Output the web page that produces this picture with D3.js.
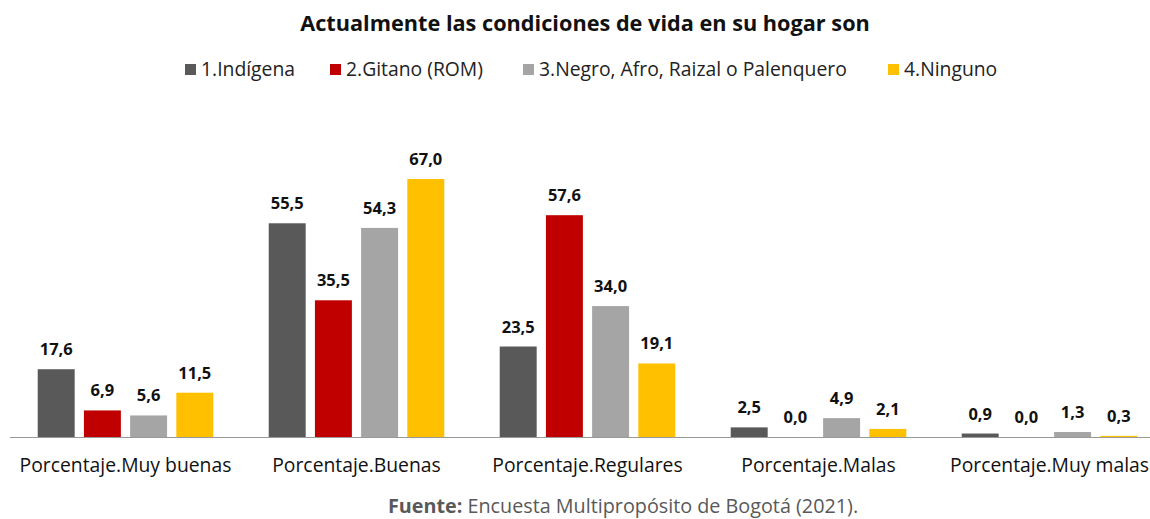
<!DOCTYPE html>
<html><head><meta charset="utf-8">
<script src="https://cdn.jsdelivr.net/npm/d3@7"></script>
<style>body{margin:0;background:#fff;} svg{display:block;font-family:"Open Sans",Lato,sans-serif;}</style>
</head><body>
<svg id="c" width="1150" height="519"></svg>
<script>
const categories = ["Porcentaje.Muy buenas","Porcentaje.Buenas","Porcentaje.Regulares","Porcentaje.Malas","Porcentaje.Muy malas"];
const seriesNames = ["1.Indígena","2.Gitano (ROM)","3.Negro, Afro, Raizal o Palenquero","4.Ninguno"];
const indigena = [17.6,55.5,23.5,2.5,0.9];
const gitano = [6.9,35.5,57.6,0.0,0.0];
const negro = [5.6,54.3,34.0,4.9,1.3];
const ninguno = [11.5,67.0,19.1,2.1,0.3];
const colors = ["#595959","#C00000","#A5A5A5","#FFC000"];
const series = [indigena,gitano,negro,ninguno];

const svg = d3.select("#c");
function fitSize(txt, weight, target){
  const t = svg.append("text").attr("font-size",20).attr("font-weight",weight).text(txt);
  const w = t.node().getComputedTextLength(); t.remove();
  return 20*target/w;
}
const base = 437;
const x0 = d3.scaleBand().domain(categories).range([10,1165]).paddingInner(0).paddingOuter(0);
const x1 = d3.scaleBand().domain(d3.range(4)).range([0,x0.bandwidth()]).paddingInner(0.2).paddingOuter(0.6);
const y = d3.scaleLinear().domain([0,67]).range([base,179]);

svg.append("text").attr("x",585).attr("y",31).attr("text-anchor","middle")
  .attr("font-size",fitSize("Actualmente las condiciones de vida en su hogar son","bold",570)).attr("font-weight","bold").attr("fill","#111").text("Actualmente las condiciones de vida en su hogar son");

const legX = [185,330,523,888];
const legFs = fitSize(seriesNames[2],"normal",308);
seriesNames.forEach((n,i)=>{
  svg.append("rect").attr("x",legX[i]).attr("y",64).attr("width",11).attr("height",11).attr("fill",colors[i]);
  svg.append("text").attr("x",legX[i]+16).attr("y",76).attr("font-size",legFs).attr("fill","#222").text(n);
});

const valFs = fitSize("17,6","bold",33);
const g = svg.append("g");
categories.forEach((c,ci)=>{
  series.forEach((s,si)=>{
    const v = s[ci];
    const bx = x0(c)+x1(si);
    g.append("rect").attr("x",bx).attr("y",y(v)).attr("width",x1.bandwidth()).attr("height",base-y(v)).attr("fill",colors[si]);
    g.append("text").attr("x",bx+x1.bandwidth()/2).attr("y",y(v)-14).attr("text-anchor","middle")
      .attr("font-size",valFs).attr("font-weight","bold").attr("fill","#111").text(d3.format(".1f")(v).replace(".",","));
  });
});

svg.append("line").attr("x1",10).attr("x2",1150).attr("y1",base+0.5).attr("y2",base+0.5).attr("stroke","#999").attr("stroke-width",1.2);

const axFs = fitSize(categories[0],"normal",212);
const ax = d3.axisBottom(x0).tickSize(0).tickPadding(0);
const axg = svg.append("g").attr("transform",`translate(0,${base})`).call(ax);
axg.select(".domain").remove();
axg.selectAll("text").attr("font-size",axFs).attr("fill","#111").attr("dy",0).attr("y",35).style("font-family","'Open Sans',Lato,sans-serif");

const srcFs = fitSize("Fuente: Encuesta Multipropósito de Bogotá (2021).","normal",465);
const src = svg.append("text").attr("x",623).attr("y",513).attr("text-anchor","middle").attr("font-size",srcFs).attr("fill","#595959");
src.append("tspan").attr("font-weight","bold").text("Fuente:");
src.append("tspan").text(" Encuesta Multipropósito de Bogotá (2021).");
</script>
</body></html>
